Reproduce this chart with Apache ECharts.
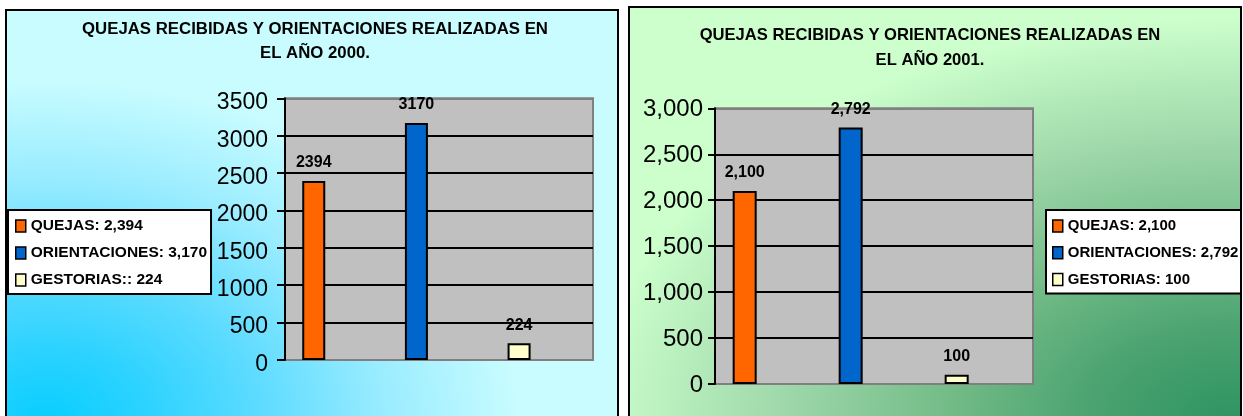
<!DOCTYPE html>
<html>
<head>
<meta charset="utf-8">
<script src="https://cdn.jsdelivr.net/npm/echarts@6/dist/echarts.min.js"></script>
<style>
html,body{margin:0;padding:0;background:#fff;width:1243px;height:416px;overflow:hidden;}
.panel{position:absolute;box-sizing:border-box;border:2px solid #000;overflow:hidden;}
#p1{left:5px;top:9px;width:614px;height:430px;
  background-color:#c8fcff;
  background-image:radial-gradient(ellipse 470px 340px at 40px 410px,#08ceff 0%,#2ad2ff 20%,#5cdbff 45%,#9aecff 72%,#c8fcff 100%);}
#p2{left:628px;top:6px;width:614px;height:430px;
  background-color:#ccffcc;
  background-image:radial-gradient(ellipse 640px 400px at 600px 410px,#2f9463 0%,#4ba370 22%,#6fb985 42%,#9fd8aa 70%,#ccffcc 100%);}
.chart{position:absolute;left:0;top:0;width:610px;height:426px;}
</style>
</head>
<body>
<div id="p1" class="panel"><div id="c1" class="chart"></div></div>
<div id="p2" class="panel"><div id="c2" class="chart"></div></div>
<script>
// ---- data ----
const categories = ['QUEJAS', 'ORIENTACIONES', 'GESTORIAS'];
const values2000 = [2394, 3170, 224];
const values2001 = [2100, 2792, 100];
const legend2000 = ['QUEJAS: 2,394', 'ORIENTACIONES: 3,170', 'GESTORIAS:: 224'];
const legend2001 = ['QUEJAS: 2,100', 'ORIENTACIONES: 2,792', 'GESTORIAS: 100'];
const yTicks2000 = [0, 500, 1000, 1500, 2000, 2500, 3000, 3500];
const yTicks2001 = [0, 500, 1000, 1500, 2000, 2500, 3000];
const title2000 = ['QUEJAS RECIBIDAS Y ORIENTACIONES REALIZADAS EN', 'EL AÑO 2000.'];
const title2001 = ['QUEJAS RECIBIDAS Y ORIENTACIONES REALIZADAS EN', 'EL AÑO 2001.'];
const barColors = ['#ff6600', '#0066cc', '#ffffcc'];

const FONT = '"Liberation Sans", Arial, sans-serif';
const fmtComma = v => Number(v).toLocaleString('en-US');

function build(cfg) {
  const ticks = cfg.ticks;
  const splitColors = ticks.map((t, i) => (i === 0 || i === ticks.length - 1) ? '#808080' : '#000000');
  return {
    animation: false,
    textStyle: { fontFamily: FONT },
    title: {
      text: cfg.title.join('\n'),
      left: cfg.titleX, top: cfg.titleY, textAlign: 'center', padding: 0,
      textStyle: { fontFamily: FONT, fontSize: cfg.titleFont, fontWeight: 'bold', color: '#000', lineHeight: cfg.titleLH }
    },
    legend: {
      orient: 'vertical', left: cfg.legendX, top: cfg.legendY,
      padding: cfg.legendPad, itemWidth: 10, itemHeight: 12, itemGap: cfg.legendGap,
      icon: 'rect', backgroundColor: '#ffffff', borderColor: '#000', borderWidth: 2, borderRadius: 0,
      itemStyle: { borderColor: '#000', borderWidth: 1.5 },
      textStyle: { fontFamily: FONT, fontSize: cfg.legendFont, fontWeight: 'bold', color: '#000', lineHeight: 16 },
      data: cfg.legend
    },
    grid: {
      left: cfg.grid[0], top: cfg.grid[1], width: cfg.grid[2], height: cfg.grid[3],
      show: true, backgroundColor: '#c0c0c0', borderColor: '#808080', borderWidth: 2,
      containLabel: false, outerBoundsMode: 'none'
    },
    xAxis: { type: 'value', min: -0.28, max: 2.72, show: false },
    yAxis: {
      type: 'value', min: ticks[0], max: ticks[ticks.length - 1], interval: ticks[1] - ticks[0],
      axisLine: { show: true, onZero: false, lineStyle: { color: '#000', width: 2 } },
      axisTick: { show: true, inside: false, length: cfg.tickLen, lineStyle: { color: '#000', width: 2 } },
      axisLabel: { fontFamily: FONT, fontSize: cfg.yFont, color: '#000', margin: cfg.labelMargin,
        formatter: v => '{t|' + cfg.yFmt(v) + '}',
        rich: { t: { fontFamily: FONT, fontSize: cfg.yFont, color: '#000', padding: cfg.labelPad } } },
      splitLine: { show: true, lineStyle: { color: splitColors, width: 2 } }
    },
    series: cfg.values.map((v, i) => ({
      type: 'bar', name: cfg.legend[i],
      barWidth: cfg.barWidth, barGap: '-100%',
      itemStyle: { color: barColors[i], borderColor: '#000', borderWidth: 2 },
      label: { show: true, position: 'top', distance: 10, fontFamily: FONT, fontSize: 16,
        fontWeight: 'bold', color: '#000', formatter: p => cfg.valFmt(p.value[1]) },
      data: [[categories.indexOf(categories[i]), v]]
    }))
  };
}

const c1 = echarts.init(document.getElementById('c1'), null, { renderer: 'canvas' });
c1.setOption(build({
  title: title2000, titleX: 308, titleY: 7, titleLH: 23.5, titleFont: 16.8,
  legend: legend2000, legendX: 1, legendY: 199, legendPad: [8, 4, 6, 7], legendGap: 11, legendFont: 15.5,
  grid: [278, 87.3, 308, 261.7], ticks: yTicks2000, tickLen: 8, yFont: 23, labelMargin: 17,
  labelPad: [9, 0, 0, 0], yFmt: v => String(v), valFmt: v => String(v), barWidth: 23,
  values: values2000
}));

const c2 = echarts.init(document.getElementById('c2'), null, { renderer: 'canvas' });
c2.setOption(build({
  title: title2001, titleX: 300, titleY: 15, titleLH: 24.7, titleFont: 16.6,
  legend: legend2001, legendX: 416, legendY: 202, legendPad: [8, 4, 6, 6], legendGap: 10.7, legendFont: 15,
  grid: [85, 100.3, 318, 275.7], ticks: yTicks2001, tickLen: 7, yFont: 24, labelMargin: 12,
  labelPad: [2, 0, 0, 0], yFmt: v => fmtComma(v), valFmt: v => fmtComma(v), barWidth: 24,
  values: values2001
}));
</script>
</body>
</html>
